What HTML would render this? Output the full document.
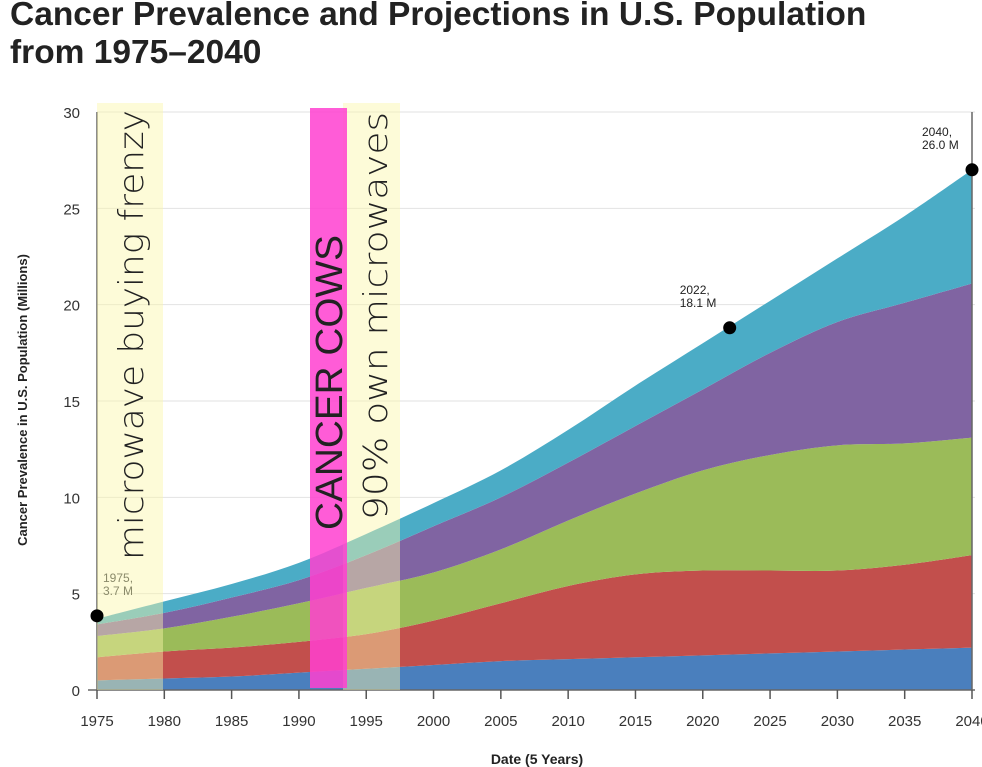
<!DOCTYPE html>
<html><head><meta charset="utf-8"><style>
body{margin:0;background:#fff;width:982px;height:767px;overflow:hidden;font-family:"Liberation Sans",sans-serif}
h1{position:absolute;left:10px;top:-4px;margin:0;font-size:33.5px;line-height:38px;font-weight:bold;color:#222}
svg{position:absolute;left:0;top:0}
</style></head><body>
<h1>Cancer Prevalence and Projections in U.S. Population<br>from 1975–2040</h1>
<svg id="c" width="982" height="767"></svg>
<script>
const years=[1975,1980,1985,1990,1995,2000,2005,2010,2015,2020,2025,2030,2035,2040];
const blueTop=[0.5,0.6,0.7,0.9,1.1,1.3,1.5,1.6,1.7,1.8,1.9,2.0,2.1,2.2];
const redTop=[1.7,2.0,2.2,2.5,2.9,3.6,4.5,5.4,6.0,6.2,6.2,6.2,6.5,7.0];
const greenTop=[2.8,3.2,3.8,4.5,5.3,6.1,7.3,8.8,10.2,11.4,12.2,12.7,12.8,13.1];
const purpleTop=[3.4,4.0,4.8,5.7,7.0,8.5,10.0,11.8,13.7,15.6,17.5,19.1,20.1,21.1];
const tealTop=[3.7,4.6,5.5,6.6,8.1,9.7,11.4,13.5,15.8,18.0,20.2,22.4,24.6,27.0];
const yTicks=[0,5,10,15,20,25,30];
const markerYears=[1975,2022,2040];
const markerVals=[3.85,18.8,27.0];
const markerLabels=[["1975,","3.7 M"],["2022,","18.1 M"],["2040,","26.0 M"]];
const xTicks=[1975,1980,1985,1990,1995,2000,2005,2010,2015,2020,2025,2030,2035,2040];

const NS="http://www.w3.org/2000/svg",svg=document.getElementById('c');
const X=v=>97+(v-1975)*(875/65), Y=v=>690-v*(578/30);
function el(t,a,p){const e=document.createElementNS(NS,t);for(const k in a)e.setAttribute(k,a[k]);(p||svg).appendChild(e);return e;}
yTicks.forEach(t=>{
 const g=el('line',{x1:97,x2:975,y1:Y(t),y2:Y(t),stroke:'#e2e2e2','stroke-width':1});
 
 
 const tx=el('text',{x:80,y:Y(t)+6,'text-anchor':'end','font-size':15,fill:'#333'});
 tx.textContent=t;
 
 
});
function pts(arr){return years.map((y,i)=>[X(y),Y(arr[i])]);}
function curve(p){let d='';for(let i=0;i<p.length-1;i++){const p0=p[Math.max(i-1,0)],p1=p[i],p2=p[i+1],p3=p[Math.min(i+2,p.length-1)];
 const c1=[p1[0]+(p2[0]-p0[0])/6,p1[1]+(p2[1]-p0[1])/6],c2=[p2[0]-(p3[0]-p1[0])/6,p2[1]-(p3[1]-p1[1])/6];
 d+=`C${c1[0]},${c1[1]} ${c2[0]},${c2[1]} ${p2[0]},${p2[1]}`;}return d;}
const zero=years.map(()=>0);
const layers=[[zero,blueTop,'#4a7fbd','area-blue'],[blueTop,redTop,'#c24f4c','area-red'],[redTop,greenTop,'#9bbb59','area-green'],[greenTop,purpleTop,'#8064a2','area-purple'],[purpleTop,tealTop,'#4bacc6','area-teal']];
layers.forEach(([lo,hi,c,n])=>{
 const top=pts(hi),bot=pts(lo).reverse();
 const d='M'+top[0][0]+','+top[0][1]+curve(top)+'L'+bot[0][0]+','+bot[0][1]+curve(bot)+'Z';
 const p=el('path',{d:d,fill:c});
 
 
});
el('line',{x1:97,x2:97,y1:112,y2:690,stroke:'#666','stroke-width':1.5});
el('line',{x1:972,x2:972,y1:112,y2:690,stroke:'#666','stroke-width':1.5});
el('line',{x1:88,x2:975,y1:690,y2:690,stroke:'#666','stroke-width':1.5});
xTicks.forEach(t=>{
 el('line',{x1:X(t),x2:X(t),y1:690,y2:699,stroke:'#555','stroke-width':1.5});
 const tx=el('text',{x:X(t),y:726,'text-anchor':'middle','font-size':15,fill:'#333'});
 tx.textContent=t;
 
 
});
const b1=el('rect',{x:97,y:103,width:66,height:587,fill:'#fbf7a8','fill-opacity':0.45});


const b3=el('rect',{x:343,y:103,width:57,height:587,fill:'#fbf7a8','fill-opacity':0.45});


const b2=el('rect',{x:310,y:108,width:37,height:580,fill:'#ff3fd0','fill-opacity':0.85});


function vtext(x,y,s,size,len,n,ff){const t=el('text',{x:0,y:0,transform:`translate(${x},${y}) rotate(-90)`,'font-size':size,fill:'#222','font-family':ff||'"DejaVu Sans",sans-serif','font-weight':'300',textLength:len,lengthAdjust:'spacingAndGlyphs'});t.textContent=s;return t;}
vtext(143,560,'microwave buying frenzy',34,450,'annotation-frenzy');
vtext(342,530,'CANCER COWS',38,295,'annotation-cancer-cows','"Liberation Sans Narrow","Liberation Sans",sans-serif');
vtext(387,520,'90%  own microwaves',33,408,'annotation-ownership');
markerYears.forEach((yr,i)=>{
 const c=el('circle',{cx:X(yr),cy:Y(markerVals[i]),r:6.5,fill:'#000'});
 
 
 const lx=i===0?X(yr)+6:X(yr)-50, ly=Y(markerVals[i])-34;
 markerLabels[i].forEach((s,j)=>{const t=el('text',{x:lx,y:ly+j*13,'font-size':12,fill:i===0?'#8a8a6a':'#222'});t.textContent=s;});
});
const yt=el('text',{x:0,y:0,transform:'translate(27,400) rotate(-90)','text-anchor':'middle','font-size':13,'font-weight':'bold',fill:'#222'});
yt.textContent='Cancer Prevalence in U.S. Population (Millions)';


const xt=el('text',{x:537,y:764,'text-anchor':'middle','font-size':14,'font-weight':'bold',fill:'#222'});
xt.textContent='Date (5 Years)';


</script>
</body></html>
